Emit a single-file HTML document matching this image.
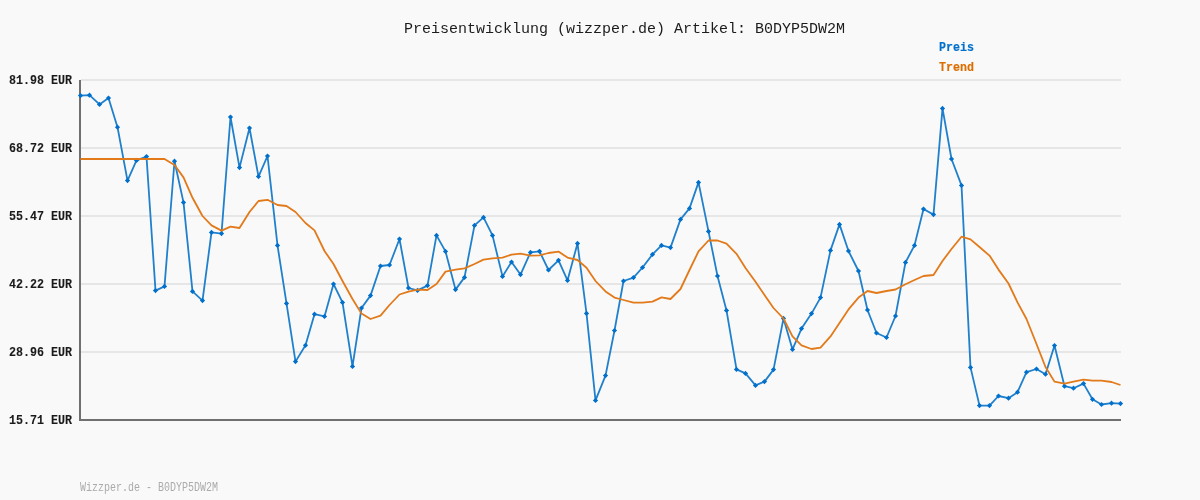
<!DOCTYPE html>
<html><head><meta charset="utf-8"><style>
html,body{margin:0;padding:0;}
body{width:1200px;height:500px;background:#f9f9f9;position:relative;overflow:hidden;}
.t{position:absolute;white-space:pre;font-family:"Liberation Mono",monospace;line-height:1;will-change:transform;}
.title{left:403.5px;top:22px;font-size:15px;color:#1c1c1c;}
.yl{left:9px;font-size:11.67px;font-weight:bold;color:#1a1a1a;-webkit-text-stroke:0.1px #1a1a1a;transform:scaleY(1.1);transform-origin:0 75%;}
.lg{left:939px;font-size:11.67px;font-weight:bold;transform:scaleY(1.04);transform-origin:0 0;-webkit-text-stroke:0.15px currentColor;}
.foot{left:80px;top:483.2px;font-size:10px;color:#ababab;transform:scaleY(1.214);transform-origin:0 0;}
svg{position:absolute;left:0;top:0;}
</style></head><body>
<svg width="1200" height="500" viewBox="0 0 1200 500">
<g fill="#e6e6e6">
<rect x="81" y="79" width="1040" height="2"/>
<rect x="81" y="147" width="1040" height="2"/>
<rect x="81" y="215" width="1040" height="2"/>
<rect x="81" y="283" width="1040" height="2"/>
<rect x="81" y="351" width="1040" height="2"/>
</g>
<rect x="79" y="80" width="2" height="341" fill="#707070"/>
<rect x="79" y="419" width="1042" height="2" fill="#707070"/>
<polyline points="80.50,95.60 89.50,95.20 99.50,104.40 108.50,98.00 117.50,127.20 127.50,180.60 136.50,160.40 146.50,156.60 155.50,290.60 164.50,286.40 174.50,161.20 183.50,202.40 192.50,291.40 202.50,300.60 211.50,232.40 221.50,233.60 230.50,117.00 239.50,167.60 249.50,128.00 258.50,176.60 267.50,156.00 277.50,245.40 286.50,303.40 295.50,361.60 305.50,345.30 314.50,314.20 324.50,316.40 333.50,284.00 342.50,302.40 352.50,366.40 361.50,308.00 370.50,295.60 380.50,266.00 389.50,265.00 399.50,239.00 408.50,288.00 417.50,290.40 427.50,285.60 436.50,235.40 445.50,251.40 455.50,289.60 464.50,277.40 474.50,225.40 483.50,217.40 492.50,235.40 502.50,276.40 511.50,262.00 520.50,274.60 530.50,252.40 539.50,251.30 548.50,270.00 558.50,260.30 567.50,280.40 577.50,243.40 586.50,313.40 595.50,400.40 605.50,375.60 614.50,330.50 623.50,281.00 633.50,277.60 642.50,267.50 652.50,254.40 661.50,245.40 670.50,247.60 680.50,219.40 689.50,208.40 698.50,182.40 708.50,231.40 717.50,276.00 726.50,310.40 736.50,369.40 745.50,373.40 755.50,385.40 764.50,381.60 773.50,369.60 783.50,318.40 792.50,349.40 801.50,328.60 811.50,313.60 820.50,297.60 830.50,250.40 839.50,224.40 848.50,251.00 858.50,271.00 867.50,310.00 876.50,333.00 886.50,337.50 895.50,316.00 905.50,262.40 914.50,245.40 923.50,209.00 933.50,214.60 942.50,108.40 951.50,159.00 961.50,185.40 970.50,367.40 979.50,405.60 989.50,405.60 998.50,396.00 1008.50,398.20 1017.50,392.20 1026.50,372.20 1036.50,369.00 1045.50,374.20 1054.50,345.50 1064.50,386.20 1073.50,388.20 1083.50,383.60 1092.50,399.30 1101.50,404.50 1111.50,403.20 1120.50,403.60" fill="none" stroke="#2080cc" stroke-width="1.8" stroke-linejoin="round"/>
<path d="M80.50 93.00l2.6 2.6l-2.6 2.6l-2.6 -2.6zM89.50 92.60l2.6 2.6l-2.6 2.6l-2.6 -2.6zM99.50 101.80l2.6 2.6l-2.6 2.6l-2.6 -2.6zM108.50 95.40l2.6 2.6l-2.6 2.6l-2.6 -2.6zM117.50 124.60l2.6 2.6l-2.6 2.6l-2.6 -2.6zM127.50 178.00l2.6 2.6l-2.6 2.6l-2.6 -2.6zM136.50 157.80l2.6 2.6l-2.6 2.6l-2.6 -2.6zM146.50 154.00l2.6 2.6l-2.6 2.6l-2.6 -2.6zM155.50 288.00l2.6 2.6l-2.6 2.6l-2.6 -2.6zM164.50 283.80l2.6 2.6l-2.6 2.6l-2.6 -2.6zM174.50 158.60l2.6 2.6l-2.6 2.6l-2.6 -2.6zM183.50 199.80l2.6 2.6l-2.6 2.6l-2.6 -2.6zM192.50 288.80l2.6 2.6l-2.6 2.6l-2.6 -2.6zM202.50 298.00l2.6 2.6l-2.6 2.6l-2.6 -2.6zM211.50 229.80l2.6 2.6l-2.6 2.6l-2.6 -2.6zM221.50 231.00l2.6 2.6l-2.6 2.6l-2.6 -2.6zM230.50 114.40l2.6 2.6l-2.6 2.6l-2.6 -2.6zM239.50 165.00l2.6 2.6l-2.6 2.6l-2.6 -2.6zM249.50 125.40l2.6 2.6l-2.6 2.6l-2.6 -2.6zM258.50 174.00l2.6 2.6l-2.6 2.6l-2.6 -2.6zM267.50 153.40l2.6 2.6l-2.6 2.6l-2.6 -2.6zM277.50 242.80l2.6 2.6l-2.6 2.6l-2.6 -2.6zM286.50 300.80l2.6 2.6l-2.6 2.6l-2.6 -2.6zM295.50 359.00l2.6 2.6l-2.6 2.6l-2.6 -2.6zM305.50 342.70l2.6 2.6l-2.6 2.6l-2.6 -2.6zM314.50 311.60l2.6 2.6l-2.6 2.6l-2.6 -2.6zM324.50 313.80l2.6 2.6l-2.6 2.6l-2.6 -2.6zM333.50 281.40l2.6 2.6l-2.6 2.6l-2.6 -2.6zM342.50 299.80l2.6 2.6l-2.6 2.6l-2.6 -2.6zM352.50 363.80l2.6 2.6l-2.6 2.6l-2.6 -2.6zM361.50 305.40l2.6 2.6l-2.6 2.6l-2.6 -2.6zM370.50 293.00l2.6 2.6l-2.6 2.6l-2.6 -2.6zM380.50 263.40l2.6 2.6l-2.6 2.6l-2.6 -2.6zM389.50 262.40l2.6 2.6l-2.6 2.6l-2.6 -2.6zM399.50 236.40l2.6 2.6l-2.6 2.6l-2.6 -2.6zM408.50 285.40l2.6 2.6l-2.6 2.6l-2.6 -2.6zM417.50 287.80l2.6 2.6l-2.6 2.6l-2.6 -2.6zM427.50 283.00l2.6 2.6l-2.6 2.6l-2.6 -2.6zM436.50 232.80l2.6 2.6l-2.6 2.6l-2.6 -2.6zM445.50 248.80l2.6 2.6l-2.6 2.6l-2.6 -2.6zM455.50 287.00l2.6 2.6l-2.6 2.6l-2.6 -2.6zM464.50 274.80l2.6 2.6l-2.6 2.6l-2.6 -2.6zM474.50 222.80l2.6 2.6l-2.6 2.6l-2.6 -2.6zM483.50 214.80l2.6 2.6l-2.6 2.6l-2.6 -2.6zM492.50 232.80l2.6 2.6l-2.6 2.6l-2.6 -2.6zM502.50 273.80l2.6 2.6l-2.6 2.6l-2.6 -2.6zM511.50 259.40l2.6 2.6l-2.6 2.6l-2.6 -2.6zM520.50 272.00l2.6 2.6l-2.6 2.6l-2.6 -2.6zM530.50 249.80l2.6 2.6l-2.6 2.6l-2.6 -2.6zM539.50 248.70l2.6 2.6l-2.6 2.6l-2.6 -2.6zM548.50 267.40l2.6 2.6l-2.6 2.6l-2.6 -2.6zM558.50 257.70l2.6 2.6l-2.6 2.6l-2.6 -2.6zM567.50 277.80l2.6 2.6l-2.6 2.6l-2.6 -2.6zM577.50 240.80l2.6 2.6l-2.6 2.6l-2.6 -2.6zM586.50 310.80l2.6 2.6l-2.6 2.6l-2.6 -2.6zM595.50 397.80l2.6 2.6l-2.6 2.6l-2.6 -2.6zM605.50 373.00l2.6 2.6l-2.6 2.6l-2.6 -2.6zM614.50 327.90l2.6 2.6l-2.6 2.6l-2.6 -2.6zM623.50 278.40l2.6 2.6l-2.6 2.6l-2.6 -2.6zM633.50 275.00l2.6 2.6l-2.6 2.6l-2.6 -2.6zM642.50 264.90l2.6 2.6l-2.6 2.6l-2.6 -2.6zM652.50 251.80l2.6 2.6l-2.6 2.6l-2.6 -2.6zM661.50 242.80l2.6 2.6l-2.6 2.6l-2.6 -2.6zM670.50 245.00l2.6 2.6l-2.6 2.6l-2.6 -2.6zM680.50 216.80l2.6 2.6l-2.6 2.6l-2.6 -2.6zM689.50 205.80l2.6 2.6l-2.6 2.6l-2.6 -2.6zM698.50 179.80l2.6 2.6l-2.6 2.6l-2.6 -2.6zM708.50 228.80l2.6 2.6l-2.6 2.6l-2.6 -2.6zM717.50 273.40l2.6 2.6l-2.6 2.6l-2.6 -2.6zM726.50 307.80l2.6 2.6l-2.6 2.6l-2.6 -2.6zM736.50 366.80l2.6 2.6l-2.6 2.6l-2.6 -2.6zM745.50 370.80l2.6 2.6l-2.6 2.6l-2.6 -2.6zM755.50 382.80l2.6 2.6l-2.6 2.6l-2.6 -2.6zM764.50 379.00l2.6 2.6l-2.6 2.6l-2.6 -2.6zM773.50 367.00l2.6 2.6l-2.6 2.6l-2.6 -2.6zM783.50 315.80l2.6 2.6l-2.6 2.6l-2.6 -2.6zM792.50 346.80l2.6 2.6l-2.6 2.6l-2.6 -2.6zM801.50 326.00l2.6 2.6l-2.6 2.6l-2.6 -2.6zM811.50 311.00l2.6 2.6l-2.6 2.6l-2.6 -2.6zM820.50 295.00l2.6 2.6l-2.6 2.6l-2.6 -2.6zM830.50 247.80l2.6 2.6l-2.6 2.6l-2.6 -2.6zM839.50 221.80l2.6 2.6l-2.6 2.6l-2.6 -2.6zM848.50 248.40l2.6 2.6l-2.6 2.6l-2.6 -2.6zM858.50 268.40l2.6 2.6l-2.6 2.6l-2.6 -2.6zM867.50 307.40l2.6 2.6l-2.6 2.6l-2.6 -2.6zM876.50 330.40l2.6 2.6l-2.6 2.6l-2.6 -2.6zM886.50 334.90l2.6 2.6l-2.6 2.6l-2.6 -2.6zM895.50 313.40l2.6 2.6l-2.6 2.6l-2.6 -2.6zM905.50 259.80l2.6 2.6l-2.6 2.6l-2.6 -2.6zM914.50 242.80l2.6 2.6l-2.6 2.6l-2.6 -2.6zM923.50 206.40l2.6 2.6l-2.6 2.6l-2.6 -2.6zM933.50 212.00l2.6 2.6l-2.6 2.6l-2.6 -2.6zM942.50 105.80l2.6 2.6l-2.6 2.6l-2.6 -2.6zM951.50 156.40l2.6 2.6l-2.6 2.6l-2.6 -2.6zM961.50 182.80l2.6 2.6l-2.6 2.6l-2.6 -2.6zM970.50 364.80l2.6 2.6l-2.6 2.6l-2.6 -2.6zM979.50 403.00l2.6 2.6l-2.6 2.6l-2.6 -2.6zM989.50 403.00l2.6 2.6l-2.6 2.6l-2.6 -2.6zM998.50 393.40l2.6 2.6l-2.6 2.6l-2.6 -2.6zM1008.50 395.60l2.6 2.6l-2.6 2.6l-2.6 -2.6zM1017.50 389.60l2.6 2.6l-2.6 2.6l-2.6 -2.6zM1026.50 369.60l2.6 2.6l-2.6 2.6l-2.6 -2.6zM1036.50 366.40l2.6 2.6l-2.6 2.6l-2.6 -2.6zM1045.50 371.60l2.6 2.6l-2.6 2.6l-2.6 -2.6zM1054.50 342.90l2.6 2.6l-2.6 2.6l-2.6 -2.6zM1064.50 383.60l2.6 2.6l-2.6 2.6l-2.6 -2.6zM1073.50 385.60l2.6 2.6l-2.6 2.6l-2.6 -2.6zM1083.50 381.00l2.6 2.6l-2.6 2.6l-2.6 -2.6zM1092.50 396.70l2.6 2.6l-2.6 2.6l-2.6 -2.6zM1101.50 401.90l2.6 2.6l-2.6 2.6l-2.6 -2.6zM1111.50 400.60l2.6 2.6l-2.6 2.6l-2.6 -2.6zM1120.50 401.00l2.6 2.6l-2.6 2.6l-2.6 -2.6z" fill="#0070cc"/>
<polyline points="80.50,159.00 89.50,159.00 99.50,159.00 108.50,159.00 117.50,159.00 127.50,159.00 136.50,159.00 146.50,159.00 155.50,159.00 164.50,159.00 174.50,165.00 183.50,177.40 192.50,197.80 202.50,216.00 211.50,225.40 221.50,230.60 230.50,226.60 239.50,228.00 249.50,212.00 258.50,201.00 267.50,199.80 277.50,205.00 286.50,206.00 295.50,212.00 305.50,223.00 314.50,230.40 324.50,251.00 333.50,264.00 342.50,281.00 352.50,299.00 361.50,313.60 370.50,319.00 380.50,315.60 389.50,305.00 399.50,294.50 408.50,291.60 417.50,289.60 427.50,290.00 436.50,284.00 445.50,271.60 455.50,269.60 464.50,268.40 474.50,264.00 483.50,259.60 492.50,258.40 502.50,257.60 511.50,254.60 520.50,253.60 530.50,255.60 539.50,255.30 548.50,253.00 558.50,251.60 567.50,257.60 577.50,260.00 586.50,267.70 595.50,281.00 605.50,291.40 614.50,297.60 623.50,300.00 633.50,302.60 642.50,302.60 652.50,301.60 661.50,297.40 670.50,299.00 680.50,289.00 689.50,270.00 698.50,251.40 708.50,240.50 717.50,240.50 726.50,243.60 736.50,253.80 745.50,268.00 755.50,281.80 764.50,295.00 773.50,308.00 783.50,318.50 792.50,336.40 801.50,345.40 811.50,349.00 820.50,347.60 830.50,336.40 839.50,323.00 848.50,309.40 858.50,297.60 867.50,291.00 876.50,293.00 886.50,291.00 895.50,289.50 905.50,284.20 914.50,280.00 923.50,276.00 933.50,275.00 942.50,261.00 951.50,249.00 961.50,236.70 970.50,239.40 979.50,247.00 989.50,255.60 998.50,269.60 1008.50,283.50 1017.50,302.40 1026.50,319.00 1036.50,344.00 1045.50,367.00 1054.50,381.60 1064.50,383.60 1073.50,381.60 1083.50,379.60 1092.50,380.60 1101.50,380.60 1111.50,382.00 1120.50,385.00" fill="none" stroke="#e27a1a" stroke-width="1.8" stroke-linejoin="round"/>
</svg>
<div class="t title">Preisentwicklung (wizzper.de) Artikel: B0DYP5DW2M</div>
<div class="t yl" style="top:75.7px">81.98 EUR</div>
<div class="t yl" style="top:143.7px">68.72 EUR</div>
<div class="t yl" style="top:211.7px">55.47 EUR</div>
<div class="t yl" style="top:279.7px">42.22 EUR</div>
<div class="t yl" style="top:347.7px">28.96 EUR</div>
<div class="t yl" style="top:415.7px">15.71 EUR</div>
<div class="t lg" style="top:43.2px;color:#0070cc">Preis</div>
<div class="t lg" style="top:63.2px;color:#dc6e00">Trend</div>
<div class="t foot">Wizzper.de - B0DYP5DW2M</div>
</body></html>
